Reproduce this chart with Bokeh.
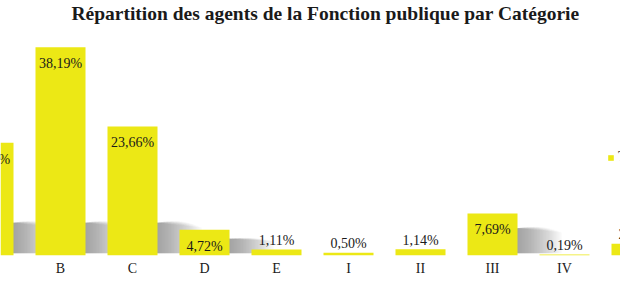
from bokeh.plotting import figure
from bokeh.models import Range1d, FixedTicker, Label, Legend, LegendItem, ColumnDataSource
from bokeh.embed import file_html
from bokeh.resources import INLINE

# ---- data ----
categories = ["A", "B", "C", "D", "E", "I", "II", "III", "IV", "V"]
values = [20.65, 38.19, 23.66, 4.72, 1.11, 0.50, 1.14, 7.69, 0.19, 2.15]
title_text = "Répartition des agents de la Fonction publique par Catégorie"
legend_label = "Total"

BAR = "#ECE815"
SERIF = "Liberation Serif"

xs = list(range(len(categories)))
labels = [f"{v:.2f}".replace(".", ",") + "%" for v in values]

p = figure(frame_width=620, frame_height=255, output_backend="svg",
           toolbar_location=None, min_border=0,
           x_range=Range1d(1 - 60 / 72, 1 + 560 / 72), y_range=Range1d(0, 46.75))
p.outline_line_color = None
p.background_fill_color = "white"
p.border_fill_color = "white"
p.grid.visible = False
p.yaxis.visible = False

# ---- soft shadows: stacked translucent layers of decreasing width ----
bw = 50 / 72
sx, sy = [], []
N = 30
sw = 0.62
for x, v in zip(xs, values):
    if v < 3:
        continue
    sh = min(v * 0.65, 6.0)
    xr = x + bw / 2
    for k in range(N):
        w = sw * (k + 1) / N
        sx.append([xr - 0.01, xr + w, xr + w, xr - 0.01])
        sy.append([0.4, 0.4, sh * (1 + 0.3 * w / sw) * (1 - 0.35 * (w / sw) ** 2), sh])
p.patches(xs="xs", ys="ys", fill_color="#6e6e6e", fill_alpha=0.028, line_color=None,
          source=ColumnDataSource(dict(xs=sx, ys=sy)))

# ---- bars ----
src = ColumnDataSource(dict(x=xs, top=values, lab=labels,
                            ly=[v - 3.0 if v > 3 else v + 0.3 for v in values],
                            lb=["middle" if v > 3 else "bottom" for v in values]))
bars = p.vbar(x="x", top="top", width=bw, bottom=0, fill_color=BAR, line_color=None, source=src)

p.text(x="x", y="ly", text="lab", text_align="center", text_baseline="lb",
       text_font={"value": SERIF}, text_font_size={"value": "14px"}, text_color="#1a1a1a",
       source=src)

# ---- axis ----
ax = p.xaxis[0]
ax.ticker = FixedTicker(ticks=xs)
ax.major_label_overrides = {i: c for i, c in zip(xs, categories)}
ax.axis_line_color = None
ax.major_tick_line_color = None
ax.major_tick_out = 0
ax.major_tick_in = 0
ax.minor_tick_line_color = None
ax.major_label_standoff = 5
ax.major_label_text_font = SERIF
ax.major_label_text_font_size = "14px"
ax.major_label_text_color = "#1a1a1a"

# ---- title ----
p.add_layout(Label(x=325, y=255 - 13, x_units="screen", y_units="screen", text=title_text,
                   text_align="center", text_baseline="alphabetic", text_font=SERIF,
                   text_font_size="19.5px", text_font_style="bold", text_color="#1a1a1a"))

# ---- legend ----
leg = Legend(items=[LegendItem(label=legend_label, renderers=[bars])],
             location=(607, 90), glyph_width=7, glyph_height=7, label_height=7,
             label_standoff=4, padding=0, margin=0, spacing=0,
             border_line_color=None, background_fill_alpha=0,
             label_text_font=SERIF, label_text_font_size="14px")
p.add_layout(leg, "center")

open("out.html", "w").write(file_html(p, INLINE))
